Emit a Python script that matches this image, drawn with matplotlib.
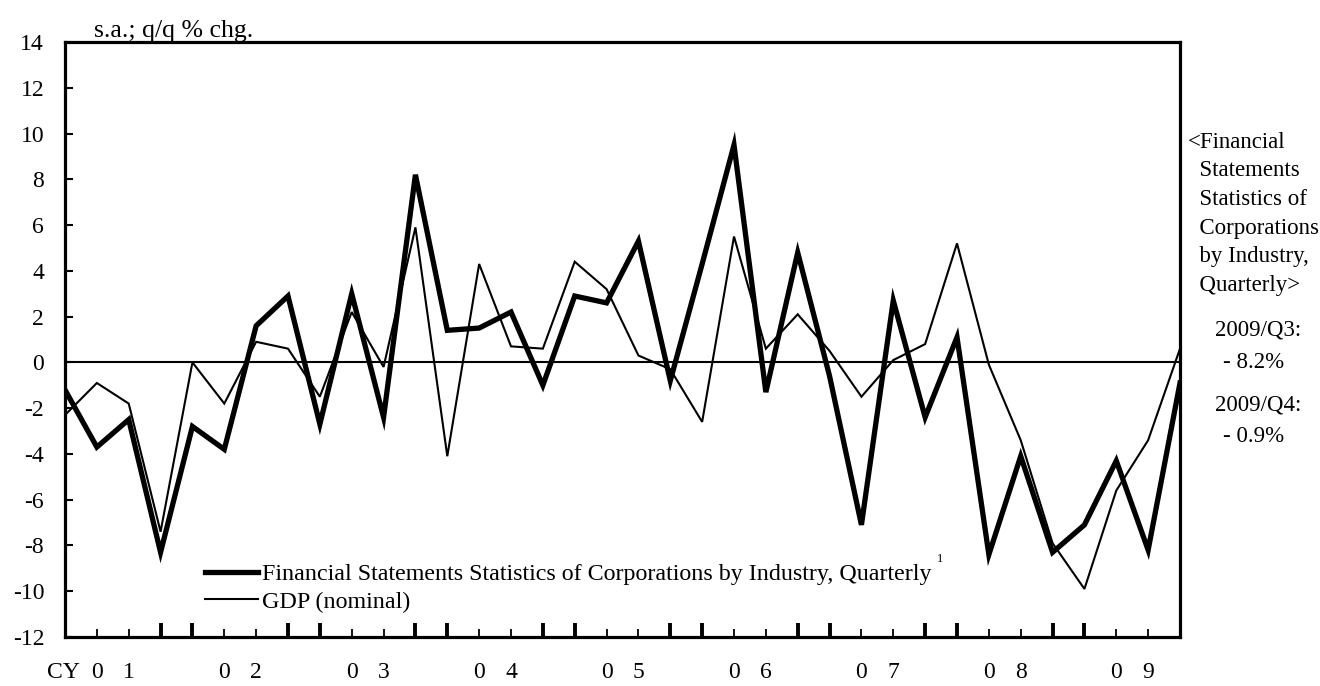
import matplotlib
matplotlib.use("Agg")
import matplotlib.pyplot as plt
from matplotlib.ticker import FixedLocator, FixedFormatter

plt.rcParams['font.family'] = ['Liberation Serif', 'DejaVu Serif']
plt.rcParams['font.size'] = 17
plt.rcParams['axes.unicode_minus'] = False

# quarterly series, CY2001/Q1 .. CY2009/Q4
YEARS = ["01", "02", "03", "04", "05", "06", "07", "08", "09"]
FSS = [-1.2, -3.7, -2.5, -8.3, -2.8, -3.8, 1.6, 2.9, -2.7, 3.0, -2.4, 8.2,
       1.4, 1.5, 2.2, -1.0, 2.9, 2.6, 5.3, -0.8, 4.3, 9.5, -1.3, 4.8,
       -0.6, -7.1, 2.7, -2.4, 1.1, -8.4, -4.1, -8.3, -7.1, -4.3, -8.2, -0.9]
GDP = [-2.3, -0.9, -1.8, -7.4, 0.0, -1.8, 0.9, 0.6, -1.5, 2.2, -0.2, 5.9,
       -4.1, 4.3, 0.7, 0.6, 4.4, 3.2, 0.3, -0.3, -2.6, 5.5, 0.6, 2.1,
       0.5, -1.5, 0.1, 0.8, 5.2, -0.1, -3.4, -7.9, -9.9, -5.6, -3.4, 0.6]
FSS_LABEL = "Financial Statements Statistics of Corporations by Industry, Quarterly"
GDP_LABEL = "GDP (nominal)"
NOTE_LINES = ["<Financial", "  Statements", "  Statistics of", "  Corporations",
              "  by Industry,", "  Quarterly>"]
LATEST = [("2009/Q3:", "- 8.2%"), ("2009/Q4:", "- 0.9%")]

W, H = 1320, 686
x = list(range(len(FSS)))

fig = plt.figure(figsize=(W / 100, H / 100), dpi=100)
ax = fig.add_axes([65 / W, 1 - 637 / H, 1115 / W, 595 / H])

l_gdp, = ax.plot(x, GDP, color='black', lw=1.5, solid_joinstyle='miter')
l_fss, = ax.plot(x, FSS, color='black', lw=3.8, solid_joinstyle='miter')
ax.axhline(0, color='black', lw=1.5)

ax.set_xlim(0, len(x) - 1)
ax.set_ylim(-12, 14)
ax.set_yticks(range(-12, 15, 2))

# thick ticks around year boundaries, thin ticks carry the year digits
major = [i for i in x[1:-1] if i % 4 in (3, 0)]
minor = [i for i in x[1:-1] if i % 4 in (1, 2)]
digits = []
for y in YEARS:
    digits += [y[0], y[1]]
ax.xaxis.set_major_locator(FixedLocator(major))
ax.xaxis.set_major_formatter(FixedFormatter([""] * len(major)))
ax.xaxis.set_minor_locator(FixedLocator(minor))
ax.xaxis.set_minor_formatter(FixedFormatter(digits))

ax.tick_params(axis='x', which='major', direction='in', length=10, width=2.8)
ax.tick_params(axis='x', which='minor', direction='in', length=6, width=1.3,
               pad=18, labelsize=17)
ax.tick_params(axis='y', direction='in', length=6, width=1.5, pad=15,
               labelsize=17)
for s in ax.spines.values():
    s.set_linewidth(2.3)

fig.text(63 / W, 1 - 672 / H, "CY", ha='center', va='center')
fig.text(94 / W, 1 - 31 / H, "s.a.; q/q % chg.", ha='left', va='center',
         fontsize=18.5)

ax.legend([l_fss, l_gdp], [FSS_LABEL, GDP_LABEL], loc='lower left',
          bbox_to_anchor=(0.126, 0.041), frameon=False, handlelength=2.2,
          handletextpad=0.15, labelspacing=0.22, borderaxespad=0, borderpad=0,
          fontsize=17.3)
fig.text(937 / W, 1 - 559 / H, "1", fontsize=9, ha='left', va='center')

for k, line in enumerate(NOTE_LINES):
    fig.text(1188 / W, 1 - (142 + 28.7 * k) / H, line, ha='left', va='center',
             fontsize=16.5)
for k, (period, value) in enumerate(LATEST):
    y0 = 330 + 75 * k
    fig.text(1215 / W, 1 - y0 / H, period, ha='left', va='center', fontsize=16.5)
    fig.text(1223 / W, 1 - (y0 + 32) / H, value, ha='left', va='center',
             fontsize=16.5)

fig.savefig("out.png", dpi=100)
